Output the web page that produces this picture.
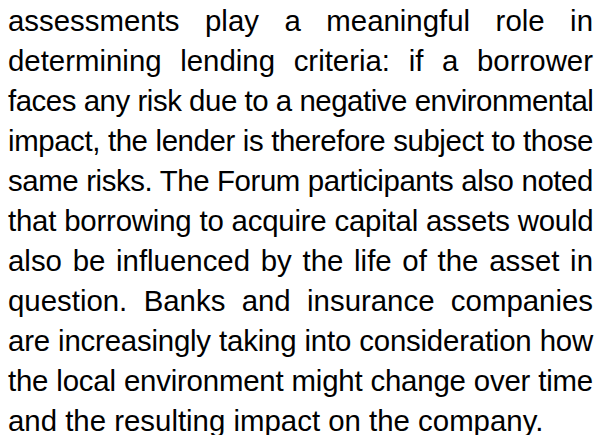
<!DOCTYPE html>
<html>
<head>
<meta charset="utf-8">
<script src="https://cdn.jsdelivr.net/npm/chart.js"></script>
<style>
  html, body { margin: 0; padding: 0; background: #fff; }
  #texto {
    width: 585px;
    padding: 1px 0 0 8px;
    font-family: "Liberation Sans", Arial, Helvetica, sans-serif;
    font-size: 29.4px;
    line-height: 40px;
    color: #000;
  }
  .linha {
    white-space: nowrap;
    text-align: justify;
    text-align-last: justify;
    overflow: visible;
  }
  .linha.ultima { text-align-last: left; }
</style>
</head>
<body>
<div id="texto"></div>
<script>
// Linhas do parágrafo, como aparecem na imagem
const linhas = [
    "assessments play a meaningful role in",
    "determining lending criteria: if a borrower",
    "faces any risk due to a negative environmental",
    "impact, the lender is therefore subject to those",
    "same risks. The Forum participants also noted",
    "that borrowing to acquire capital assets would",
    "also be influenced by the life of the asset in",
    "question. Banks and insurance companies",
    "are increasingly taking into consideration how",
    "the local environment might change over time",
    "and the resulting impact on the company."
];

const caixa = document.getElementById('texto');
linhas.forEach((t, i) => {
    const d = document.createElement('div');
    d.className = 'linha' + (i === linhas.length - 1 ? ' ultima' : '');
    d.textContent = t;
    caixa.appendChild(d);
    // Aperta o espaçamento se a linha não couber na largura
    let ls = 0;
    while (d.scrollWidth > d.clientWidth && ls > -2) {
        ls -= 0.05;
        d.style.letterSpacing = ls + 'px';
    }
});
</script>
</body>
</html>
